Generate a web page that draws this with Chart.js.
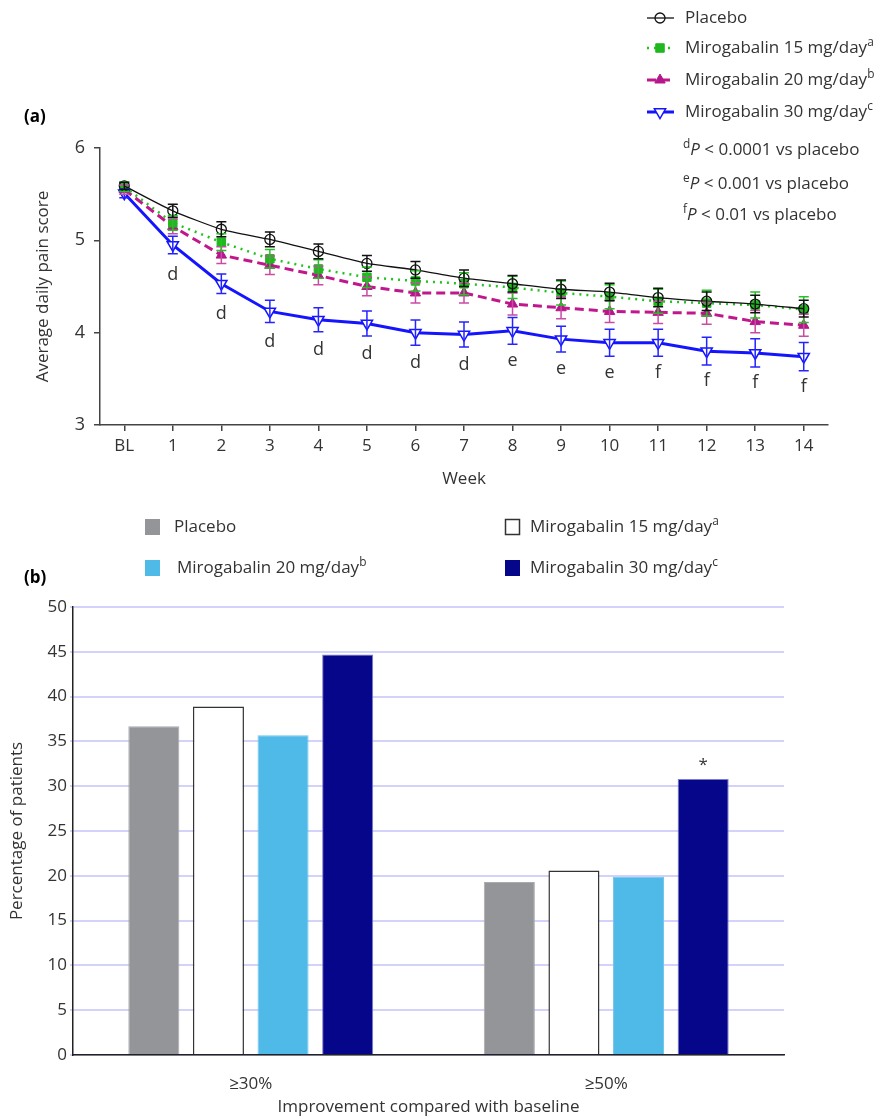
<!DOCTYPE html>
<html>
<head>
<meta charset="utf-8">
<script src="https://cdn.jsdelivr.net/npm/chart.js@4.4.0/dist/chart.umd.min.js"></script>
<style>
  body { margin: 0; background: #fff; }
  #wrap { position: relative; width: 893px; height: 1119px; }
  canvas { position: absolute; left: 0; }
</style>
</head>
<body>
<div id="wrap">
  <canvas id="painChart" width="893" height="500" style="top:0;width:893px;height:500px"></canvas>
  <canvas id="respChart" width="893" height="619" style="top:500px;width:893px;height:619px"></canvas>
</div>
<script>
// panel (a): weekly average daily pain score
const weeks = ['BL', '1', '2', '3', '4', '5', '6', '7', '8', '9', '10', '11', '12', '13', '14'];
const placebo = [5.59, 5.32, 5.12, 5.01, 4.88, 4.75, 4.68, 4.59, 4.53, 4.47, 4.44, 4.38, 4.34, 4.31, 4.26];
const miro15 = [5.58, 5.19, 4.98, 4.80, 4.69, 4.60, 4.56, 4.53, 4.49, 4.43, 4.39, 4.34, 4.32, 4.30, 4.25];
const miro20 = [5.55, 5.15, 4.84, 4.73, 4.62, 4.50, 4.43, 4.43, 4.31, 4.27, 4.23, 4.22, 4.21, 4.12, 4.08];
const miro30 = [5.51, 4.95, 4.53, 4.23, 4.14, 4.10, 4.00, 3.98, 4.02, 3.93, 3.89, 3.89, 3.80, 3.78, 3.74];
const placeboErr = [0.04, 0.07, 0.08, 0.08, 0.08, 0.085, 0.09, 0.09, 0.09, 0.10, 0.095, 0.10, 0.10, 0.095, 0.09];
const miro15Err = [0.05, 0.08, 0.09, 0.10, 0.10, 0.11, 0.11, 0.12, 0.12, 0.13, 0.13, 0.13, 0.14, 0.14, 0.14];
const miro20Err = [0.05, 0.08, 0.09, 0.10, 0.10, 0.10, 0.11, 0.11, 0.12, 0.12, 0.12, 0.12, 0.12, 0.12, 0.12];
const miro30Err = [0.05, 0.095, 0.105, 0.12, 0.13, 0.135, 0.137, 0.135, 0.145, 0.14, 0.146, 0.146, 0.15, 0.153, 0.153];
const sigLetters = ['', 'd', 'd', 'd', 'd', 'd', 'd', 'd', 'e', 'e', 'e', 'f', 'f', 'f', 'f'];
const painTicks = [3, 4, 5, 6];

const seriesNames = ['Placebo', 'Mirogabalin 15 mg/day', 'Mirogabalin 20 mg/day', 'Mirogabalin 30 mg/day'];
const seriesSup = ['', 'a', 'b', 'c'];
const pNotes = [['d', ' < 0.0001 vs placebo'], ['e', ' < 0.001 vs placebo'], ['f', ' < 0.01 vs placebo']];

// panel (b): responder rates
const thresholds = ['\u226530%', '\u226550%'];
const pctPlacebo = [36.7, 19.3];
const pct15 = [38.9, 20.6];
const pct20 = [35.7, 19.9];
const pct30 = [44.7, 30.8];

const fam = "'Open Sans', 'Noto Sans', sans-serif";
Chart.defaults.font.family = fam;
Chart.defaults.color = '#333';

function richText(ctx, parts, x, y, size) {
  parts.forEach(function (p) {
    const txt = p[0], kind = p[1];
    let yy = y;
    if (kind === 'sup') { ctx.font = (size * 0.7) + 'px ' + fam; yy = y - size * 0.33; }
    else if (kind === 'i') ctx.font = 'italic ' + size + 'px ' + fam;
    else ctx.font = size + 'px ' + fam;
    ctx.fillText(txt, x, yy);
    x += ctx.measureText(txt).width;
  });
}

const errorBars = {
  id: 'errorBars',
  afterDatasetsDraw(chart) {
    const ctx = chart.ctx, y = chart.scales.y;
    for (let i = chart.data.datasets.length - 1; i >= 0; i--) {
      const ds = chart.data.datasets[i];
      const meta = chart.getDatasetMeta(i);
      ctx.save();
      ctx.strokeStyle = ds.errColor;
      ctx.lineWidth = 1.5;
      meta.data.forEach(function (pt, j) {
        const top = y.getPixelForValue(ds.data[j] + ds.errors[j]);
        const bot = y.getPixelForValue(ds.data[j] - ds.errors[j]);
        ctx.beginPath();
        ctx.moveTo(pt.x, top); ctx.lineTo(pt.x, bot);
        ctx.moveTo(pt.x - 5, top); ctx.lineTo(pt.x + 5, top);
        ctx.moveTo(pt.x - 5, bot); ctx.lineTo(pt.x + 5, bot);
        ctx.stroke();
      });
      ctx.restore();
    }
  }
};

const painExtras = {
  id: 'painExtras',
  afterDraw(chart) {
    const ctx = chart.ctx;
    ctx.save();
    // significance letters under the 30 mg points
    const meta = chart.getDatasetMeta(3);
    ctx.fillStyle = '#333';
    ctx.font = '18px ' + fam;
    ctx.textAlign = 'center';
    ctx.textBaseline = 'middle';
    meta.data.forEach(function (pt, j) {
      if (sigLetters[j]) ctx.fillText(sigLetters[j], pt.x, pt.y + 30);
    });

    // legend
    ctx.textAlign = 'left';
    const rows = [18, 48, 80, 112];
    chart.data.datasets.forEach(function (ds, i) {
      const yy = rows[i];
      ctx.strokeStyle = ds.borderColor;
      ctx.lineWidth = ds.borderWidth;
      ctx.setLineDash(ds.borderDash || []);
      ctx.beginPath(); ctx.moveTo(647, yy); ctx.lineTo(674, yy); ctx.stroke();
      ctx.setLineDash([]);
      ctx.fillStyle = ds.pointBackgroundColor;
      ctx.strokeStyle = ds.pointBorderColor;
      ctx.lineWidth = ds.pointBorderWidth;
      Chart.helpers.drawPoint(ctx, { pointStyle: ds.pointStyle, rotation: ds.pointRotation || 0, radius: ds.pointRadius, borderWidth: ds.pointBorderWidth }, 660, yy);
      ctx.fillStyle = '#333';
      const parts = [[seriesNames[i], '']];
      if (seriesSup[i]) parts.push([seriesSup[i], 'sup']);
      richText(ctx, parts, 685, yy, 17);
    });
    ctx.fillStyle = '#333';
    [150, 184, 215].forEach(function (yy, i) {
      richText(ctx, [[pNotes[i][0], 'sup'], ['P', 'i'], [pNotes[i][1], '']], 683, yy, 17);
    });

    ctx.font = 'bold 17px ' + fam;
    ctx.fillStyle = '#000';
    ctx.fillText('(a)', 24, 117);
    ctx.restore();
  }
};

new Chart(document.getElementById('painChart'), {
  type: 'line',
  data: {
    labels: weeks,
    datasets: [
      {
        label: seriesNames[0], data: placebo, errors: placeboErr, errColor: '#111',
        borderColor: '#111', borderWidth: 1.3, tension: 0.2,
        pointStyle: 'circle', pointRadius: 5, pointBackgroundColor: 'rgba(255,255,255,0)',
        pointBorderColor: '#111', pointBorderWidth: 1.3
      },
      {
        label: seriesNames[1], data: miro15, errors: miro15Err, errColor: '#22c322',
        borderColor: '#1fc41f', borderWidth: 2.5, borderDash: [2, 5], tension: 0,
        pointStyle: 'rect', pointRadius: 6, pointBackgroundColor: '#1fb81f',
        pointBorderColor: '#1fb81f', pointBorderWidth: 1
      },
      {
        label: seriesNames[2], data: miro20, errors: miro20Err, errColor: '#c84ba5',
        borderColor: '#c0188c', borderWidth: 3, borderDash: [9, 5], tension: 0,
        pointStyle: 'triangle', pointRadius: 6, pointBackgroundColor: '#b5178a',
        pointBorderColor: '#b5178a', pointBorderWidth: 1
      },
      {
        label: seriesNames[3], data: miro30, errors: miro30Err, errColor: '#2424ff',
        borderColor: '#1414ff', borderWidth: 3, tension: 0,
        pointStyle: 'triangle', pointRotation: 180, pointRadius: 6.5, pointBackgroundColor: '#fff',
        pointBorderColor: '#1414ff', pointBorderWidth: 1.5
      }
    ]
  },
  options: {
    responsive: false,
    animation: false,
    layout: { padding: { top: 148, right: 65, left: 0, bottom: 0 } },
    plugins: { legend: { display: false }, tooltip: { enabled: false } },
    scales: {
      x: {
        offset: true,
        grid: { display: true, drawOnChartArea: false, tickLength: 6, color: '#444', lineWidth: 1.5 },
        border: { color: '#444', width: 1.5 },
        ticks: { color: '#333', font: { size: 17 }, padding: 5 },
        title: { display: true, text: 'Week', color: '#333', font: { size: 17 }, padding: { top: 0, bottom: 11 } },
        afterFit: function (s) { s.height = 75; }
      },
      y: {
        min: 3, max: 6,
        afterBuildTicks: function (s) { s.ticks = painTicks.map(function (v) { return { value: v }; }); },
        grid: { display: true, drawOnChartArea: false, tickLength: 6, color: '#444', lineWidth: 1.5 },
        border: { color: '#444', width: 1.5 },
        ticks: { color: '#333', font: { size: 18 }, padding: 9 },
        title: { display: true, text: 'Average daily pain score', color: '#333', font: { size: 17 }, padding: { top: 33, bottom: 0 } },
        afterFit: function (s) { s.width = 100; }
      }
    }
  },
  plugins: [errorBars, painExtras]
});

const barExtras = {
  id: 'barExtras',
  afterDraw(chart) {
    const ctx = chart.ctx;
    ctx.save();
    // asterisk over the 30 mg bar at >=50%
    const bar = chart.getDatasetMeta(3).data[1];
    ctx.fillStyle = '#333';
    ctx.font = '17px ' + fam;
    ctx.textAlign = 'center';
    ctx.textBaseline = 'middle';
    ctx.fillText('*', bar.x, bar.y - 14);

    // legend
    ctx.textAlign = 'left';
    const spots = [[145, 174, 27], [505, 530, 27], [145, 177, 68], [505, 530, 68]];
    chart.data.datasets.forEach(function (ds, i) {
      const s = spots[i];
      ctx.fillStyle = ds.backgroundColor;
      ctx.fillRect(s[0], s[2] - 8, 15, 16);
      if (ds.borderColor === '#333') {
        ctx.strokeStyle = '#333'; ctx.lineWidth = 1.5;
        ctx.strokeRect(s[0] + 0.5, s[2] - 7.5, 14, 15);
      }
      ctx.fillStyle = '#333';
      const parts = [[seriesNames[i], '']];
      if (seriesSup[i]) parts.push([seriesSup[i], 'sup']);
      richText(ctx, parts, s[1], s[2], 17);
    });

    ctx.font = 'bold 17px ' + fam;
    ctx.fillStyle = '#000';
    ctx.fillText('(b)', 24, 78);
    ctx.restore();
  }
};

new Chart(document.getElementById('respChart'), {
  type: 'bar',
  data: {
    labels: thresholds,
    datasets: [
      { label: seriesNames[0], data: pctPlacebo, backgroundColor: '#939598', borderColor: '#a9aaad', borderWidth: 1 },
      { label: seriesNames[1], data: pct15, backgroundColor: '#ffffff', borderColor: '#333', borderWidth: 1.5 },
      { label: seriesNames[2], data: pct20, backgroundColor: '#4fb9e7', borderColor: '#6cc4ec', borderWidth: 1 },
      { label: seriesNames[3], data: pct30, backgroundColor: '#06068a', borderColor: '#7a7ad0', borderWidth: 1 }
    ]
  },
  options: {
    responsive: false,
    animation: false,
    categoryPercentage: 0.727,
    barPercentage: 0.79,
    layout: { padding: { top: 107, right: 109, left: 0, bottom: 1 } },
    plugins: { legend: { display: false }, tooltip: { enabled: false } },
    scales: {
      x: {
        grid: { display: false },
        border: { color: '#222', width: 1.5 },
        ticks: { color: '#333', font: { size: 17 }, padding: 11 },
        title: { display: true, text: 'Improvement compared with baseline', color: '#333', font: { size: 17 }, padding: { top: 0, bottom: 1 } },
        afterFit: function (s) { s.height = 63; }
      },
      y: {
        min: 0, max: 50,
        ticks: { stepSize: 5, color: '#333', font: { size: 17 }, padding: 3 },
        grid: { color: '#d2d2fa', lineWidth: 2, tickLength: 3 },
        border: { color: '#222', width: 1.5 },
        title: { display: true, text: 'Percentage of patients', color: '#333', font: { size: 17 }, padding: { top: 7, bottom: 0 } },
        afterFit: function (s) { s.width = 73; }
      }
    }
  },
  plugins: [barExtras]
});
</script>
</body>
</html>
